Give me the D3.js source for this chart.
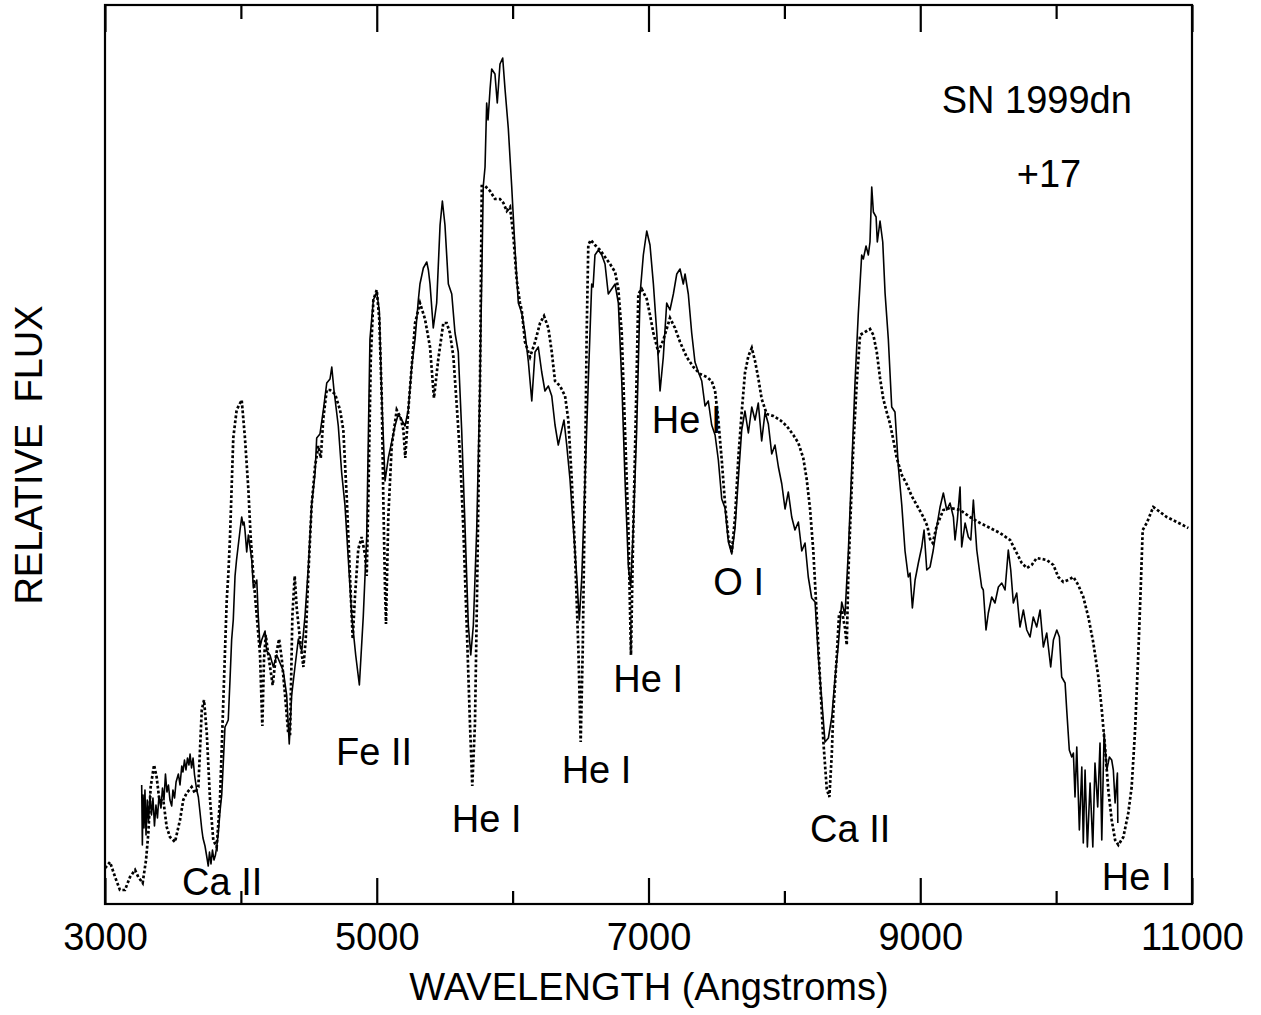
<!DOCTYPE html>
<html>
<head>
<meta charset="utf-8">
<script src="https://cdn.jsdelivr.net/npm/d3@7"></script>
<style>
  body { margin: 0; background: #fff; }
  text { font-family: "Liberation Sans", Arial, Helvetica, sans-serif; fill: #000; }
</style>
</head>
<body>
<script>
const WIDTH = 1261
const HEIGHT = 1015
const MARGIN = {top: 5, right: 69, bottom: 111, left: 105}
const FONT = 38

// observed spectrum, [wavelength (A), relative flux]
var observed = [
  [3270,1.19],[3275,0.59],[3280,1.09],[3287,0.76],[3294,1.14],[3302,0.69],[3311,1.04],[3320,0.82],
  [3331,1.09],[3342,0.89],[3353,1.06],[3364,0.78],[3375,0.99],[3386,0.86],[3397,1.08],[3412,0.96],
  [3423,1.16],[3434,1.04],[3445,1.30],[3456,1.12],[3467,1.19],[3478,1.04],[3491,0.98],[3500,1.14],
  [3512,1.06],[3523,1.22],[3540,1.30],[3552,1.19],[3565,1.38],[3574,1.32],[3585,1.44],[3596,1.34],
  [3607,1.46],[3618,1.39],[3626,1.50],[3637,1.36],[3648,1.46],[3659,1.29],[3675,1.14],[3687,1.07],
  [3699,0.92],[3712,0.75],[3721,0.66],[3736,0.58],[3747,0.49],[3760,0.38],[3769,0.52],[3780,0.40],
  [3791,0.54],[3802,0.44],[3813,0.49],[3824,0.59],[3834,0.71],[3846,0.92],[3859,1.09],[3868,1.34],
  [3883,1.77],[3894,1.80],[3907,1.84],[3920,2.24],[3932,2.64],[3944,2.84],[3957,3.28],[3968,3.44],
  [3981,3.59],[3994,3.74],[4006,3.87],[4016,3.79],[4023,3.82],[4030,3.74],[4043,3.52],[4055,3.69],
  [4080,3.44],[4092,3.16],[4117,3.24],[4128,2.88],[4141,2.57],[4153,2.64],[4178,2.73],[4190,2.53],
  [4214,2.49],[4239,2.37],[4264,2.49],[4288,2.41],[4312,2.33],[4337,2.09],[4356,1.60],[4374,2.09],
  [4398,2.37],[4423,2.65],[4448,2.53],[4472,2.88],[4496,3.36],[4521,3.99],[4546,4.31],[4558,4.66],
  [4582,4.70],[4607,4.94],[4632,5.21],[4656,5.25],[4669,5.37],[4685,5.14],[4717,4.78],[4742,4.31],
  [4766,3.99],[4791,3.44],[4816,2.88],[4845,2.49],[4872,2.19],[4901,2.88],[4926,3.67],[4950,5.65],
  [4975,6.04],[5000,6.12],[5019,5.93],[5037,5.06],[5061,4.23],[5085,4.46],[5110,4.62],[5134,4.78],
  [5159,4.90],[5184,4.84],[5208,4.78],[5232,4.94],[5257,5.37],[5282,5.65],[5306,6.04],[5318,6.20],
  [5343,6.36],[5368,6.42],[5380,6.34],[5392,6.20],[5416,5.76],[5441,6.01],[5466,6.79],[5483,7.03],
  [5502,6.79],[5527,6.20],[5552,6.10],[5576,5.71],[5600,5.52],[5625,4.74],[5650,3.76],[5674,2.79],
  [5692,2.49],[5711,2.79],[5736,3.76],[5760,5.23],[5784,7.18],[5797,7.37],[5809,8.01],[5819,7.84],
  [5834,8.15],[5846,8.35],[5870,8.30],[5887,8.01],[5907,8.40],[5927,8.46],[5944,8.15],[5968,7.76],
  [5993,7.18],[6018,6.54],[6042,6.01],[6067,5.91],[6091,5.71],[6116,5.42],[6141,5.03],[6165,5.52],
  [6189,5.57],[6214,5.32],[6238,5.13],[6263,5.18],[6288,5.08],[6312,4.79],[6336,4.59],[6361,4.74],
  [6378,4.84],[6398,4.59],[6422,4.25],[6447,3.76],[6472,3.27],[6491,2.84],[6509,3.27],[6533,4.25],
  [6557,5.23],[6582,6.20],[6592,6.17],[6606,6.49],[6631,6.54],[6656,6.49],[6680,6.40],[6704,6.10],
  [6729,6.15],[6754,6.20],[6778,6.01],[6803,5.23],[6827,4.25],[6852,3.37],[6869,3.18],[6888,3.76],
  [6913,4.74],[6938,6.10],[6962,6.49],[6987,6.73],[7011,6.59],[7036,6.20],[7061,5.71],[7085,5.13],
  [7109,5.47],[7134,6.01],[7158,5.94],[7183,6.10],[7208,6.30],[7232,6.35],[7256,6.20],[7269,6.30],
  [7293,6.10],[7318,5.71],[7342,5.42],[7367,5.32],[7392,5.23],[7416,4.98],[7440,5.03],[7465,4.79],
  [7490,4.69],[7514,4.44],[7539,4.05],[7563,3.96],[7588,3.62],[7613,3.50],[7637,3.76],[7661,4.25],
  [7686,4.74],[7710,4.93],[7735,4.71],[7760,4.97],[7784,4.84],[7808,5.01],[7833,4.63],[7858,4.92],
  [7882,4.80],[7907,4.50],[7931,4.59],[7956,4.37],[7981,4.20],[8005,3.95],[8029,4.12],[8054,3.87],
  [8078,3.74],[8103,3.82],[8128,3.53],[8152,3.61],[8176,3.27],[8201,3.06],[8226,3.02],[8250,2.47],
  [8275,2.04],[8299,1.62],[8324,1.66],[8349,1.87],[8373,2.26],[8397,2.59],[8422,3.02],[8446,2.89],
  [8471,3.53],[8496,4.37],[8520,5.22],[8544,5.90],[8569,6.49],[8581,6.45],[8601,6.58],[8618,6.49],
  [8630,6.62],[8643,7.17],[8655,6.92],[8675,6.87],[8684,6.62],[8704,6.83],[8724,6.62],[8741,6.11],
  [8765,5.65],[8790,4.97],[8814,4.92],[8839,4.37],[8864,3.99],[8888,3.53],[8912,3.27],[8925,3.31],
  [8942,2.96],[8962,3.24],[8986,3.41],[9011,3.57],[9028,3.74],[9048,3.34],[9072,3.37],[9096,3.54],
  [9121,3.77],[9146,3.97],[9170,4.11],[9195,3.94],[9219,4.01],[9244,3.87],[9256,3.64],[9273,3.84],
  [9293,4.17],[9305,3.57],[9330,3.81],[9354,3.67],[9372,3.64],[9391,4.04],[9416,3.54],[9435,3.34],
  [9452,3.17],[9464,3.14],[9484,2.74],[9501,2.91],[9526,3.07],[9550,3.01],[9575,3.17],[9600,3.21],
  [9624,3.14],[9648,3.54],[9666,3.34],[9685,3.01],[9710,3.11],[9734,2.77],[9759,2.94],[9784,2.74],
  [9808,2.67],[9832,2.87],[9857,2.77],[9882,2.94],[9906,2.57],[9931,2.71],[9960,2.37],[9980,2.64],
  [10005,2.74],[10024,2.67],[10041,2.27],[10066,2.21],[10078,1.94],[10097,1.54],[10115,1.47],[10127,1.51],
  [10139,1.07],[10152,1.57],[10171,0.74],[10189,1.37],[10200,0.61],[10213,1.34],[10230,0.57],[10250,1.21],
  [10270,0.57],[10286,1.41],[10306,0.97],[10323,1.61],[10336,0.64],[10353,1.71],[10373,1.34],[10392,1.47],
  [10409,1.44],[10421,1.34],[10434,1.01],[10451,1.31],[10454,0.81]
]

// synthetic spectrum, [wavelength (A), relative flux]
var synthetic = [
  [3000,0.36],[3007,0.37],[3037,0.42],[3074,0.27],[3110,0.14],[3147,0.14],[3184,0.27],[3221,0.34],
  [3245,0.27],[3277,0.21],[3302,0.44],[3319,0.71],[3336,1.17],[3361,1.39],[3380,1.27],[3400,1.04],
  [3429,1.04],[3454,0.77],[3478,0.67],[3515,0.62],[3552,0.84],[3576,1.04],[3601,1.11],[3638,1.17],
  [3662,1.11],[3687,1.17],[3712,1.94],[3729,2.04],[3749,1.71],[3773,1.04],[3797,0.64],[3822,0.57],
  [3846,1.04],[3871,2.04],[3896,3.04],[3907,3.28],[3920,3.67],[3944,4.66],[3969,4.94],[4006,5.04],
  [4030,4.66],[4055,4.15],[4072,3.67],[4092,3.28],[4117,2.88],[4141,2.49],[4158,1.78],[4170,2.44],
  [4183,2.69],[4202,2.49],[4234,2.19],[4259,2.49],[4281,2.65],[4301,2.45],[4325,2.09],[4349,1.70],
  [4362,1.70],[4379,2.88],[4396,3.28],[4411,2.96],[4435,2.65],[4460,2.37],[4477,2.64],[4496,3.28],
  [4521,3.99],[4546,4.38],[4570,4.58],[4588,4.46],[4607,4.86],[4632,5.14],[4656,5.14],[4693,5.10],
  [4730,4.94],[4754,4.74],[4779,4.07],[4803,3.28],[4823,2.65],[4840,3.08],[4864,3.55],[4889,3.67],
  [4914,3.49],[4926,3.28],[4938,4.04],[4956,5.45],[4975,6.04],[5000,6.14],[5019,5.84],[5037,5.06],
  [5048,4.07],[5061,3.14],[5068,2.80],[5085,3.87],[5110,4.58],[5147,4.94],[5176,4.86],[5196,4.74],
  [5210,4.46],[5232,4.94],[5257,5.37],[5282,5.81],[5318,6.01],[5355,5.85],[5392,5.57],[5421,5.06],
  [5453,5.45],[5490,5.81],[5515,5.81],[5539,5.71],[5564,5.47],[5589,4.98],[5613,4.49],[5637,3.76],
  [5662,2.79],[5686,1.81],[5703,1.18],[5723,1.81],[5740,3.27],[5760,5.23],[5773,7.18],[5797,7.18],
  [5834,7.13],[5870,7.05],[5907,7.05],[5932,7.01],[5957,6.93],[5981,6.97],[6005,6.69],[6030,6.24],
  [6054,6.01],[6067,5.94],[6091,5.62],[6128,5.47],[6165,5.62],[6202,5.81],[6231,5.88],[6263,5.76],
  [6288,5.52],[6312,5.23],[6349,5.18],[6386,5.08],[6410,4.84],[6435,4.25],[6459,3.52],[6484,2.54],
  [6501,1.62],[6516,2.54],[6533,4.25],[6545,5.71],[6557,6.59],[6575,6.64],[6606,6.59],[6643,6.54],
  [6680,6.47],[6717,6.40],[6754,6.32],[6778,6.15],[6803,5.71],[6827,4.74],[6852,3.76],[6871,2.49],
  [6888,3.76],[6908,4.98],[6925,6.10],[6950,6.15],[6987,6.05],[7011,5.89],[7036,5.71],[7072,5.52],
  [7109,5.64],[7158,5.86],[7195,5.76],[7232,5.62],[7281,5.47],[7330,5.37],[7379,5.30],[7429,5.27],
  [7465,5.23],[7490,5.13],[7514,4.84],[7539,4.44],[7563,4.01],[7588,3.66],[7613,3.52],[7637,3.87],
  [7661,4.46],[7686,4.92],[7710,5.31],[7735,5.48],[7760,5.56],[7784,5.43],[7808,5.26],[7833,5.05],
  [7870,4.90],[7919,4.88],[7968,4.84],[8017,4.78],[8066,4.69],[8103,4.61],[8139,4.46],[8164,4.25],
  [8189,3.95],[8213,3.53],[8238,2.89],[8262,2.26],[8287,1.62],[8312,1.15],[8331,1.07],[8349,1.50],
  [8360,1.92],[8385,2.47],[8402,2.89],[8422,2.94],[8446,2.76],[8459,2.59],[8471,3.31],[8483,3.74],
  [8508,4.59],[8533,5.22],[8557,5.69],[8581,5.71],[8606,5.73],[8630,5.75],[8655,5.69],[8680,5.52],
  [8704,5.26],[8728,5.05],[8753,4.92],[8778,4.80],[8802,4.64],[8827,4.46],[8864,4.29],[8900,4.20],
  [8937,4.08],[8974,3.99],[9023,3.87],[9052,3.78],[9072,3.65],[9092,3.61],[9121,3.78],[9170,3.94],
  [9219,3.96],[9293,3.94],[9366,3.87],[9440,3.81],[9514,3.76],[9587,3.71],[9661,3.64],[9710,3.51],
  [9747,3.41],[9784,3.36],[9820,3.39],[9857,3.46],[9931,3.44],[9980,3.39],[10016,3.27],[10053,3.22],
  [10090,3.24],[10127,3.27],[10163,3.19],[10200,3.07],[10237,2.87],[10274,2.61],[10311,2.27],[10336,1.94],
  [10360,1.57],[10384,1.14],[10409,0.84],[10434,0.64],[10458,0.59],[10495,0.67],[10531,0.91],[10556,1.17],
  [10581,1.74],[10605,2.51],[10623,3.17],[10637,3.74],[10667,3.81],[10715,3.97],[10765,3.92],[10814,3.87],
  [10888,3.82],[10973,3.76]
]

var majorTicks = [3000, 5000, 7000, 9000, 11000]
var minorTicks = [4000, 6000, 8000, 10000]

// line identifications: text, wavelength, flux of the baseline
var lineIds = [
  ["Ca II", 3567, 0.09],
  ["Fe II", 4700, 1.39],
  ["He I", 5552, 0.72],
  ["He I", 6361, 1.21],
  ["He I", 6741, 2.12],
  ["He I", 7024, 4.71],
  ["O I", 7477, 3.09],
  ["Ca II", 8189, 0.62],
  ["He I", 10336, 0.14]
]

var titleLines = [["SN 1999dn", 9158, 7.91], ["+17", 9710, 7.17]]

var createChart = function(){
    var w = WIDTH - MARGIN.left - MARGIN.right
    var h = HEIGHT - MARGIN.top - MARGIN.bottom

    var svg = d3.select("body").append("svg")
        .attr("width", WIDTH)
        .attr("height", HEIGHT)

    var g = svg.append("g")
        .attr("transform", "translate(" + MARGIN.left + "," + MARGIN.top + ")")

    var x = d3.scaleLinear().domain([3000, 11000]).range([0, w])
    var y = d3.scaleLinear().domain([0, 8.99]).range([h, 0])

    var line = d3.line()
        .x(function(d){ return x(d[0]) })
        .y(function(d){ return y(d[1]) })

    g.append("path")
        .datum(synthetic)
        .attr("d", line)
        .attr("fill", "none")
        .attr("stroke", "#000")
        .attr("stroke-width", 2.7)
        .attr("stroke-dasharray", "2.8,2.2")

    g.append("path")
        .datum(observed)
        .attr("d", line)
        .attr("fill", "none")
        .attr("stroke", "#000")
        .attr("stroke-width", 1.6)
        .attr("stroke-linejoin", "round")

    // frame
    g.append("rect")
        .attr("x", 0).attr("y", 0)
        .attr("width", w).attr("height", h)
        .attr("fill", "none")
        .attr("stroke", "#000")
        .attr("stroke-width", 2.2)

    var bottom = g.append("g")
        .attr("transform", "translate(0," + h + ")")
        .call(d3.axisBottom(x).tickValues(majorTicks).tickSizeInner(-26).tickSizeOuter(0).tickPadding(19).tickFormat(d3.format("d")))
    g.append("g")
        .attr("transform", "translate(0," + h + ")")
        .call(d3.axisBottom(x).tickValues(minorTicks).tickSizeInner(-13).tickSizeOuter(0).tickFormat(""))
    g.append("g")
        .call(d3.axisTop(x).tickValues(majorTicks).tickSizeInner(-27).tickSizeOuter(0).tickFormat(""))
    g.append("g")
        .call(d3.axisTop(x).tickValues(minorTicks).tickSizeInner(-14).tickSizeOuter(0).tickFormat(""))

    g.selectAll(".domain").remove()
    g.selectAll(".tick line").attr("stroke", "#000").attr("stroke-width", 2.2)
    bottom.selectAll("text")
        .style("font-size", FONT + "px")
        .style("font-family", "'Liberation Sans', Arial, sans-serif")
        .attr("fill", "#000")

    g.selectAll(".line-id")
        .data(lineIds)
        .enter().append("text")
        .classed("line-id", true)
        .attr("x", function(d){ return x(d[1]) })
        .attr("y", function(d){ return y(d[2]) })
        .style("font-size", FONT + "px")
        .text(function(d){ return d[0] })

    g.selectAll(".title")
        .data(titleLines)
        .enter().append("text")
        .classed("title", true)
        .attr("x", function(d){ return x(d[1]) })
        .attr("y", function(d){ return y(d[2]) })
        .style("font-size", FONT + "px")
        .text(function(d){ return d[0] })

    svg.append("text")
        .attr("x", MARGIN.left + w / 2 + 0.5)
        .attr("y", 1000)
        .attr("text-anchor", "middle")
        .style("font-size", FONT + "px")
        .text("WAVELENGTH (Angstroms)")

    svg.append("text")
        .attr("transform", "translate(42,455) rotate(-90)")
        .attr("text-anchor", "middle")
        .style("font-size", FONT + "px")
        .style("white-space", "pre")
        .text("RELATIVE  FLUX")
}

createChart()
</script>
</body>
</html>
